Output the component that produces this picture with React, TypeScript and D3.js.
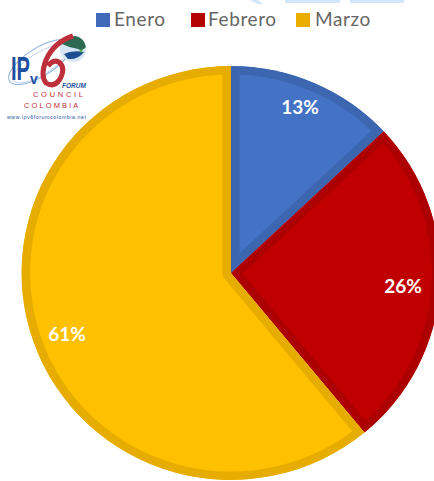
import React from "react";
import * as d3 from "d3";

const categories = ["Enero", "Febrero", "Marzo"];
const shares = [13, 26, 61];
const fills = ["#4472C4", "#C00000", "#FFC000"];
const rims = ["#3D66B0", "#AD0000", "#E6AC00"];
const legendSwatchFills = ["#4069B8", "#B30000", "#EBAE00"];
const legendSwatchX = [96, 191, 296];
const legendTextX = [114, 208, 315];
const labelAnchors = [[300, 107], [403, 286], [67, 334]];

const WIDTH = 434;
const HEIGHT = 481;
const CX = 231;
const CY = 273;
const RADIUS = 207;
const X_STRETCH = 1.012;
const RIM = 8.5;

const pieLayout = d3.pie<number>().sort(null).value((d) => d);
const arcShape = d3.arc<d3.PieArcDatum<number>>().innerRadius(0).outerRadius(RADIUS);
const sliceTransform = `translate(${CX},${CY}) scale(${X_STRETCH},1)`;

const LOGO_BLUE = "#1F4FA0";
const LOGO_RED = "#BE2F3C";

function Logo() {
  return (
    <g>
      {/* orbit around the letters */}
      <ellipse cx={40} cy={62} rx={36} ry={14} transform="rotate(-32 40 62)" fill="none" stroke="#8FB0DC" strokeWidth={1} />
      <ellipse cx={40} cy={64} rx={31} ry={11} transform="rotate(-32 40 64)" fill="none" stroke="#B5CBE8" strokeWidth={0.8} />
      {/* globe */}
      <circle cx={73} cy={49} r={13} fill="#D5E5F4" />
      <path d="M62 44 Q66 36 76 36 Q84 38 86 47 Q82 52 78 49 Q70 48 62 44 Z" fill="#2C6B52" />
      <path d="M64 54 Q72 50 84 52 Q78 60 68 59 Z" fill="#1D4E92" />
      <circle cx={81} cy={51} r={1.5} fill="#5FB04A" />
      {/* letters */}
      <g transform="translate(11,80) scale(1,1.42)">
        <text x={0} y={0} fontFamily="Liberation Sans, sans-serif" fontSize={24} fontWeight={700} fill={LOGO_BLUE} textLength={19} lengthAdjust="spacingAndGlyphs">IP</text>
      </g>
      <text x={30} y={84} fontFamily="Liberation Sans, sans-serif" fontSize={14} fontWeight={700} fill={LOGO_BLUE}>v</text>
      {/* the large six, with its stroke running up towards the globe */}
      <path d="M73 36 Q54 42 46 60 Q40 76 46 83 Q54 88 60 79 Q66 68 59 62 Q53 59 48 66" fill="none" stroke={LOGO_RED} strokeWidth={5} />
      <text x={62} y={88} fontFamily="Liberation Sans, sans-serif" fontSize={6.5} fontWeight={700} fontStyle="italic" fill={LOGO_BLUE}>FORUM</text>
      <text x={33} y={97} fontFamily="Liberation Sans, sans-serif" fontSize={7.5} letterSpacing={2.7} fill={LOGO_RED}>COUNCIL</text>
      <text x={24} y={108} fontFamily="Liberation Sans, sans-serif" fontSize={7.5} letterSpacing={2.1} fill={LOGO_RED}>COLOMBIA</text>
      <text x={7} y={119} fontFamily="Liberation Sans, sans-serif" fontSize={5.2} fill={LOGO_BLUE} textLength={79}>www.ipv6forumcolombia.net</text>
    </g>
  );
}

export default function App() {
  const slices = pieLayout(shares);
  return (
    <svg
      width={WIDTH}
      height={HEIGHT}
      viewBox={`0 0 ${WIDTH} ${HEIGHT}`}
      style={{ position: "absolute", left: 0, top: 0, background: "#fff" }}
    >
      <defs>
        {slices.map((s, i) => (
          <clipPath key={i} id={`slice-${i}`}>
            <path d={arcShape(s) ?? ""} transform={sliceTransform} />
          </clipPath>
        ))}
      </defs>

      {/* pale remnants along the upper edge */}
      <g fill="#CFE6FB">
        <rect x={285} y={0} width={55} height={3} />
        <rect x={350} y={0} width={54} height={3} />
        <path d="M250 0 L258 0 L263 4 L258 4 Z" />
      </g>

      {/* legend */}
      <g>
        {categories.map((c, i) => (
          <g key={c}>
            <rect x={legendSwatchX[i]} y={13} width={14} height={14} fill={legendSwatchFills[i]} />
            <text x={legendTextX[i]} y={26} fontFamily="Lato, sans-serif" fontSize={19} letterSpacing={0.6} fill="#666666">
              {c}
            </text>
          </g>
        ))}
      </g>

      {/* pie slices with an inner rim */}
      {slices.map((s, i) => (
        <g key={i} clipPath={`url(#slice-${i})`}>
          <path
            d={arcShape(s) ?? ""}
            transform={sliceTransform}
            fill={fills[i]}
            stroke={rims[i]}
            strokeWidth={RIM * 2}
            strokeLinejoin="round"
          />
        </g>
      ))}

      {/* percentage labels */}
      {shares.map((v, i) => (
        <text
          key={i}
          x={labelAnchors[i][0]}
          y={labelAnchors[i][1] + 7}
          textAnchor="middle"
          fontFamily="Lato, sans-serif"
          fontWeight={700}
          fontSize={19}
          fill="#fff"
        >
          {v}%
        </text>
      ))}

      <Logo />
    </svg>
  );
}
